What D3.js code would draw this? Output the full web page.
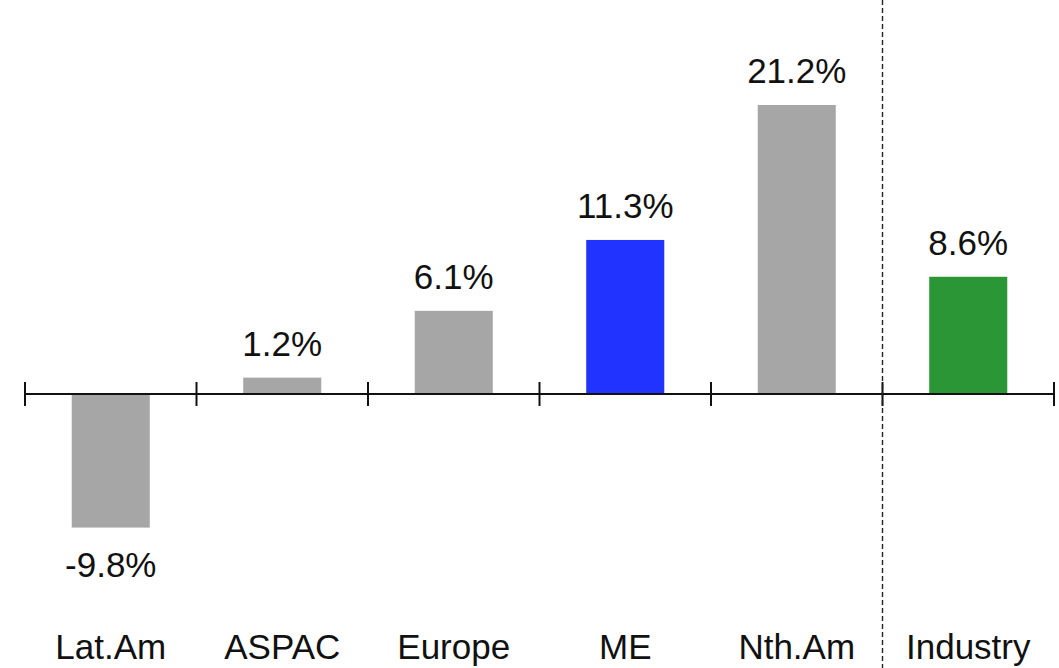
<!DOCTYPE html>
<html>
<head>
<meta charset="utf-8">
<script src="https://cdn.jsdelivr.net/npm/d3@7"></script>
<style>
  html, body { margin: 0; padding: 0; background: #fff; }
  svg { display: block; }
  text { font-family: "Liberation Sans", Arial, sans-serif; fill: #111; }
</style>
</head>
<body>
<svg id="chart" width="1059" height="668"></svg>
<script>
// Growth by region, with the industry figure shown separately on the right
const categories = ["Lat.Am", "ASPAC", "Europe", "ME", "Nth.Am", "Industry"];
const growth = [-9.8, 1.2, 6.1, 11.3, 21.2, 8.6];
const valueLabels = ["-9.8%", "1.2%", "6.1%", "11.3%", "21.2%", "8.6%"];
const barColors = ["#a6a6a6", "#a6a6a6", "#a6a6a6", "#2033ff", "#a6a6a6", "#2a9636"];

const svg = d3.select("#chart");
const W = 1059, H = 668;

const x = d3.scaleBand()
  .domain(categories)
  .range([25, 1054])
  .padding(0);

const y = d3.scaleLinear()
  .domain([-10, 22])
  .range([530.3, 94.1]);

const barW = x.bandwidth() * 0.455;

// bars
svg.append("g").selectAll("rect")
  .data(categories)
  .join("rect")
  .attr("x", (d) => x(d) + (x.bandwidth() - barW) / 2)
  .attr("width", barW)
  .attr("y", (d, i) => Math.min(y(growth[i]), y(0)))
  .attr("height", (d, i) => Math.abs(y(growth[i]) - y(0)))
  .attr("fill", (d, i) => barColors[i]);

// value labels
svg.append("g").selectAll("text")
  .data(categories)
  .join("text")
  .attr("x", (d) => x(d) + x.bandwidth() / 2)
  .attr("y", (d, i) => growth[i] >= 0 ? y(growth[i]) - 22 : y(growth[i]) + 49)
  .attr("text-anchor", "middle")
  .attr("font-size", 35)
  .text((d, i) => valueLabels[i]);

// zero axis with tick marks at the band edges
const zeroY = y(0);
const edges = categories.map((d) => x(d)).concat([x.range()[1]]);
svg.append("line")
  .attr("x1", x.range()[0]).attr("x2", x.range()[1])
  .attr("y1", zeroY).attr("y2", zeroY)
  .attr("stroke", "#111").attr("stroke-width", 2);
svg.append("g").selectAll("line")
  .data(edges)
  .join("line")
  .attr("x1", (d) => d).attr("x2", (d) => d)
  .attr("y1", zeroY - 12).attr("y2", zeroY + 12)
  .attr("stroke", "#111").attr("stroke-width", 2);

// separator between regions and industry
const sepX = x("Industry");
svg.append("line")
  .attr("x1", sepX).attr("x2", sepX)
  .attr("y1", 0).attr("y2", H)
  .attr("stroke", "#222").attr("stroke-width", 1.4)
  .attr("stroke-dasharray", "5,3");

// category labels
svg.append("g").selectAll("text")
  .data(categories)
  .join("text")
  .attr("x", (d) => x(d) + x.bandwidth() / 2)
  .attr("y", 659)
  .attr("text-anchor", "middle")
  .attr("font-size", 35)
  .text((d) => d);
</script>
</body>
</html>
